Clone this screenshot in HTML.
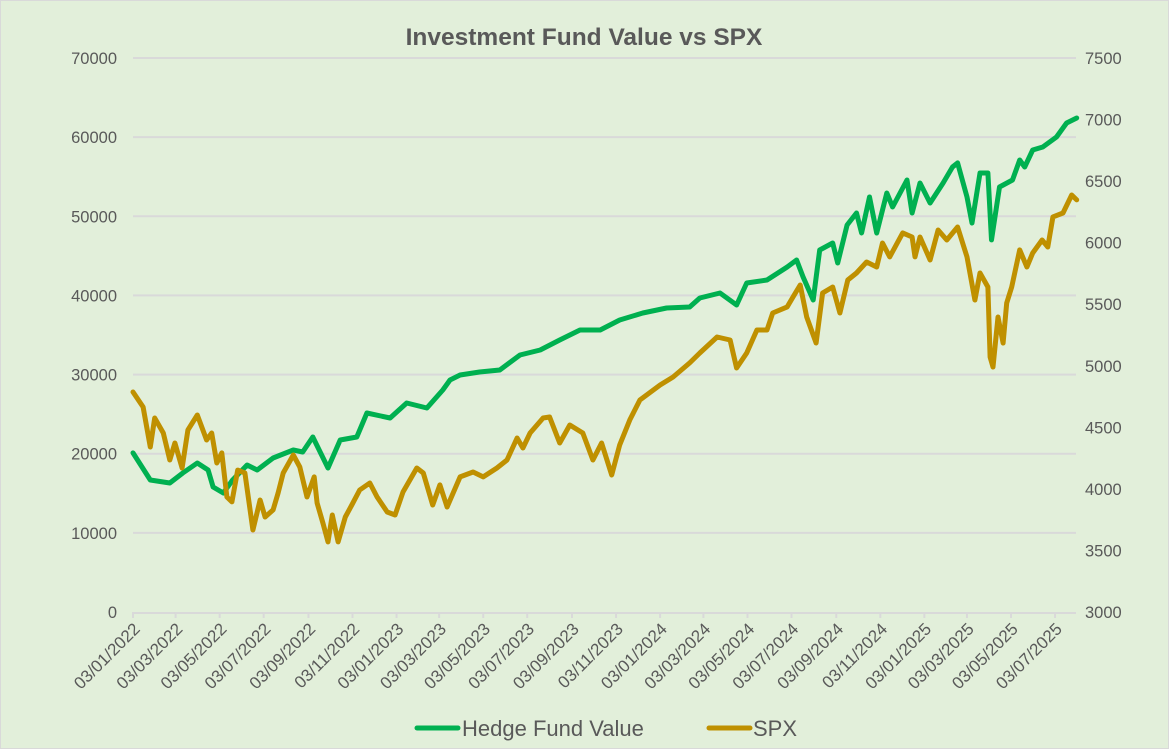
<!DOCTYPE html>
<html><head><meta charset="utf-8"><style>
html,body{margin:0;padding:0;background:#e2efda;}
svg{display:block;font-family:"Liberation Sans",sans-serif;}
</style></head><body>
<svg id="chart" width="1169" height="749" viewBox="0 0 1169 749" xmlns="http://www.w3.org/2000/svg">
<rect x="0.5" y="0.5" width="1168" height="748" fill="#e2efda" stroke="#d9d9d9"/>
<text x="584" y="45" text-anchor="middle" font-size="24.5" font-weight="bold" fill="#595959">Investment Fund Value vs SPX</text>
<g id="grid"></g>
<g id="axes"></g>
<g id="series"></g>
<g>
<g>
<line x1="417" y1="728" x2="458" y2="728" stroke="#00b050" stroke-width="5" stroke-linecap="round"/>
<text x="462" y="736" font-size="22" fill="#595959">Hedge Fund Value</text></g>
<g>
<line x1="709" y1="728" x2="750" y2="728" stroke="#bf9000" stroke-width="5" stroke-linecap="round"/>
<text x="753" y="736" font-size="22" fill="#595959">SPX</text></g>
</g>
</svg>
<script>
// Day offsets from 2022-01-03 and values
const fundDays = [0,24,51,69,89,104,111,125,138,158,172,194,222,235,249,270,287,310,324,356,379,407,429,439,453,480,508,536,564,591,619,647,674,706,739,771,785,813,836,850,878,906,919,928,942,951,969,976,989,1002,1009,1020,1030,1044,1052,1072,1079,1090,1104,1122,1135,1142,1155,1162,1173,1184,1189,1200,1218,1228,1235,1246,1260,1279,1293,1307];
const fundValues = [20100,16680,16300,17560,18830,17940,15800,15040,16680,18570,17940,19460,20470,20220,22110,18200,21730,22110,25150,24510,26410,25780,28050,29320,29950,30330,30580,32470,33110,34370,35630,35630,36900,37780,38410,38540,39680,40310,38790,41570,41950,43590,44480,42330,39420,45740,46630,44100,48900,50420,47890,52440,47890,52940,51170,54590,50420,54210,51680,54210,56230,56740,52440,49150,55470,55470,47010,53700,54590,57110,56230,58380,58760,60020,61790,62420];
const spxDays = [0,14,24,30,42,51,58,68,76,89,102,109,116,123,130,137,145,155,166,176,183,194,201,208,222,231,241,251,255,263,270,276,284,294,303,314,328,338,352,363,374,393,402,415,425,435,453,471,485,504,518,532,540,550,568,577,591,605,623,637,649,663,674,688,702,730,748,771,785,809,827,836,850,864,878,886,906,914,924,933,946,955,969,979,990,1002,1016,1030,1038,1048,1066,1079,1083,1090,1104,1115,1127,1142,1155,1166,1173,1184,1187,1191,1198,1205,1210,1217,1228,1238,1246,1259,1267,1274,1288,1300,1307];
const spxValues = [4787,4665,4340,4576,4454,4235,4373,4170,4478,4600,4397,4454,4210,4292,3934,3894,4153,4129,3666,3910,3772,3829,3967,4129,4275,4178,3934,4097,3885,3723,3569,3788,3569,3772,3869,3991,4048,3934,3812,3788,3975,4170,4129,3869,4032,3853,4097,4137,4097,4170,4235,4413,4332,4454,4576,4584,4373,4519,4454,4235,4373,4113,4357,4560,4722,4844,4909,5023,5104,5234,5209,4982,5104,5291,5291,5429,5478,5559,5656,5396,5185,5591,5640,5429,5697,5754,5843,5802,5997,5884,6079,6046,5884,6046,5859,6103,6022,6127,5884,5534,5754,5640,5071,4990,5396,5185,5510,5640,5941,5802,5916,6022,5965,6209,6241,6387,6347];
const leftTicks = [0,10000,20000,30000,40000,50000,60000,70000];
const rightTicks = [3000,3500,4000,4500,5000,5500,6000,6500,7000,7500];

const NS="http://www.w3.org/2000/svg";
const X0=133,X1=1076,Y0=612,Y1=58,DAYS=1306;
const start=Date.UTC(2022,0,3);
const xDay=d=>X0+(d/DAYS)*(X1-X0);
const yL=v=>Y0-(v/70000)*(Y0-Y1);
const yR=v=>Y0-((v-3000)/4500)*(Y0-Y1);
function mk(tag,attrs,parent){const e=document.createElementNS(NS,tag);for(const k in attrs)e.setAttribute(k,attrs[k]);parent.appendChild(e);return e;}
const grid=document.getElementById('grid'),axes=document.getElementById('axes'),ser=document.getElementById('series');
leftTicks.forEach(v=>{
  const y=yL(v);
  if(v>0){const l=mk('line',{x1:X0,x2:X1,y1:y,y2:y,stroke:'#d9d9d9','stroke-width':2},grid);
  
  }
  const t=mk('text',{x:117,y:y+6,'text-anchor':'end','font-size':16.5,fill:'#595959'},axes);
  t.textContent=v;
  
  
});
rightTicks.forEach(v=>{
  const t=mk('text',{x:1085,y:yR(v)+6,'font-size':16.5,fill:'#595959'},axes);
  t.textContent=v;
  
  
});
const ax=mk('line',{x1:X0,x2:X1,y1:Y0+1,y2:Y0+1,stroke:'#d9d9d9','stroke-width':2},axes);


for(let i=0;i<22;i++){
  const y=2022+Math.floor(i/6), m=(i%6)*2;
  const d=(Date.UTC(y,m,3)-start)/86400000;
  const x=xDay(d);
  const tk=mk('line',{x1:x,x2:x,y1:Y0,y2:Y0+6,stroke:'#d9d9d9','stroke-width':2},axes);
  
  
  const lab='03/'+String(m+1).padStart(2,'0')+'/'+y;
  const t=mk('text',{x:x+8,y:Y0+18,'text-anchor':'end','font-size':17,fill:'#595959',transform:`rotate(-45 ${x+8} ${Y0+18})`},axes);
  t.textContent=lab;
  
  
}
function line(days,vals,yf,color,name){
  const p=mk('polyline',{points:days.map((d,i)=>xDay(d).toFixed(1)+','+yf(vals[i]).toFixed(1)).join(' '),fill:'none',stroke:color,'stroke-width':5,'stroke-linejoin':'round','stroke-linecap':'round'},ser);
  
  
}
line(fundDays,fundValues,yL,'#00b050','hedge-fund-value-line');
line(spxDays,spxValues,yR,'#bf9000','spx-line');
</script>
</body></html>
